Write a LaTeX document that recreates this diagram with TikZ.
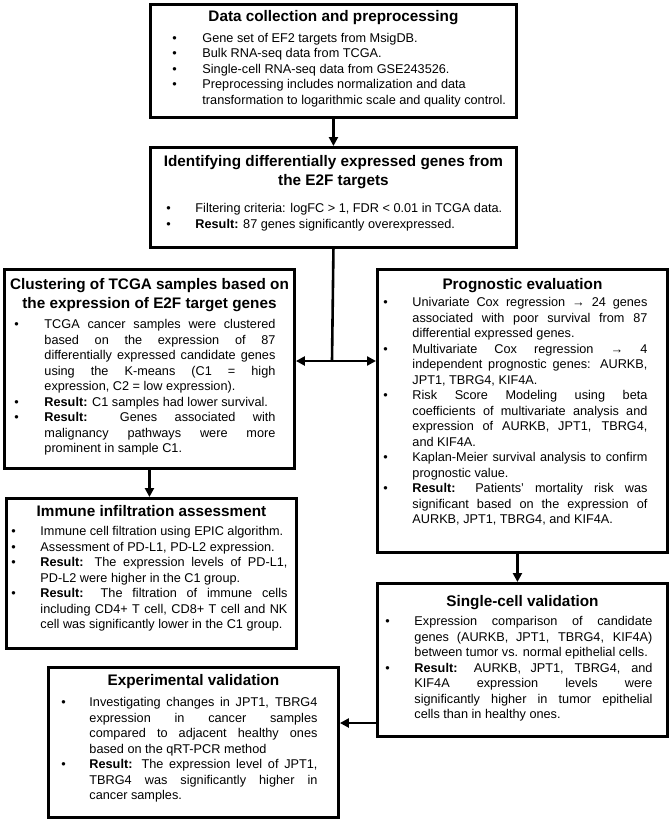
\documentclass[tikz,border=0pt]{standalone}
\usepackage{fontspec}
\setmainfont{Liberation Sans}
\usetikzlibrary{arrows.meta}

\newcommand*\bodysize{\fontsize{12.7}{15.5}\selectfont}
\newcommand*\headsize{\fontsize{15.3}{18.6}\selectfont\bfseries}
% #1 width, #2 height, #3 gap above title, #4 title, #5 gap below title,
% #6 bullet offset, #7 text offset, #8 right margin, #9 items
\newcommand\stagebody[9]{%
  \begin{minipage}[t][#2pt][t]{#1pt}%
  \parskip=0pt \hyphenpenalty=10000 \exhyphenpenalty=10000 \tolerance=10000
  \vspace*{#3pt}%
  {\centering\headsize #4\par}%
  \vspace{#5pt}%
  \bodysize
  \begin{list}{\textbullet}{\setlength\leftmargin{#7pt}%
      \setlength\labelwidth{\dimexpr#7pt-#6pt\relax}\setlength\labelsep{0pt}%
      \setlength\rightmargin{#8pt}\setlength\itemsep{0pt}\setlength\parsep{0pt}%
      \setlength\topsep{0pt}\setlength\partopsep{0pt}%
      \renewcommand\makelabel[1]{##1\hfil}}%
  #9
  \end{list}%
  \end{minipage}}

\begin{document}
\begin{tikzpicture}[x=1pt,y=1pt,
    stagebox/.style={draw, line width=2.9pt, inner sep=0pt, anchor=north west},
    link/.style={line width=2.6pt},
    flow/.style={line width=2.6pt, -{Triangle[length=9pt,width=9pt]}}]
\useasboundingbox (0,0) rectangle (669,-819);

% top column
\node[stagebox] (data) at (149,-3) {\stagebody{366}{113}{6}{Data collection and preprocessing}{5.3}{22}{52}{4}{\raggedright
  \item Gene set of EF2 targets from MsigDB.
  \item Bulk RNA-seq data from TCGA.
  \item Single-cell RNA-seq data from GSE243526.
  \item Preprocessing includes normalization and data\newline transformation to logarithmic scale and quality control.}};
\node[stagebox] (degs) at (149,-146) {\stagebody{366}{100}{8.4}{Identifying differentially expressed genes from\\the E2F targets}{11.5}{16}{45}{4}{\raggedright
  \item Filtering criteria: logFC > 1, FDR < 0.01 in TCGA data.
  \item \textbf{Result:} 87 genes significantly overexpressed.}};

% left column
\node[stagebox] (clus) at (3,-268) {\stagebody{290}{199}{9.4}{Clustering of TCGA samples based on\\the expression of E2F target genes}{4.5}{10}{40}{19}{%
  \item TCGA cancer samples were clustered\linebreak based on the expression of 87\linebreak differentially expressed candidate genes\linebreak using the K-means (C1 = high\linebreak expression, C2 = low expression).
  \item \textbf{Result:} C1 samples had lower survival.
  \item \textbf{Result:} Genes associated with\linebreak malignancy pathways were more\linebreak prominent in sample C1.}};
\node[stagebox] (immune) at (5,-497) {\stagebody{290}{150}{7.4}{Immune infiltration assessment}{3.5}{5}{34}{9}{%
  \item Immune cell filtration using EPIC algorithm.
  \item Assessment of PD-L1, PD-L2 expression.
  \item \textbf{Result:} The expression levels of PD-L1,\linebreak PD-L2 were higher in the C1 group.
  \item \textbf{Result:} The filtration of immune cells\linebreak including CD4+ T cell, CD8+ T cell and NK\linebreak cell was significantly lower in the C1 group.}};
\node[stagebox] (exper) at (47,-666) {\stagebody{290}{150}{7.4}{Experimental validation}{5.1}{13}{41}{21}{%
  \item Investigating changes in JPT1, TBRG4\linebreak expression in cancer samples\linebreak compared to adjacent healthy ones\linebreak based on the qRT-PCR method
  \item \textbf{Result:} The expression level of JPT1,\linebreak TBRG4 was significantly higher in\linebreak cancer samples.}};

% right column
\node[stagebox] (prog) at (376,-268) {\stagebody{290}{283}{9.4}{Prognostic evaluation}{1.5}{6}{35}{20}{%
  \item Univariate Cox regression → 24 genes\linebreak associated with poor survival from 87\linebreak differential expressed genes.
  \item Multivariate Cox regression → 4\linebreak independent prognostic genes: AURKB,\linebreak JPT1, TBRG4, KIF4A.
  \item Risk Score Modeling using beta\linebreak coefficients of multivariate analysis and\linebreak expression of AURKB, JPT1, TBRG4,\linebreak and KIF4A.
  \item Kaplan-Meier survival analysis to confirm\linebreak prognostic value.
  \item \textbf{Result:} Patients' mortality risk was\linebreak significant based on the expression of\linebreak AURKB, JPT1, TBRG4, and KIF4A.}};
\node[stagebox] (single) at (376,-582) {\stagebody{290}{153}{12.4}{Single-cell validation}{3.5}{8}{37}{15}{%
  \item Expression comparison of candidate\linebreak genes (AURKB, JPT1, TBRG4, KIF4A)\linebreak between tumor vs. normal epithelial cells.
  \item \textbf{Result:} AURKB, JPT1, TBRG4, and\linebreak KIF4A expression levels were\linebreak significantly higher in tumor epithelial\linebreak cells than in healthy ones.}};

% connectors
\coordinate (hub) at (332,-361);
\coordinate (drop) at (356,-723);
\draw[flow] (data) -- (degs);
\draw[link] (degs.south) -- (hub);
\draw[flow] (hub) -- (hub -| clus.east);
\draw[flow] (hub) -- (hub -| prog.west);
\draw[flow] (clus.south) -- (clus.south |- immune.north);
\draw[flow] ([xshift=-5pt]prog.south) -- ([xshift=-5pt]prog.south |- single.north);
\draw[flow] (single.west |- drop) -- (exper.east |- drop);
\end{tikzpicture}
\end{document}
